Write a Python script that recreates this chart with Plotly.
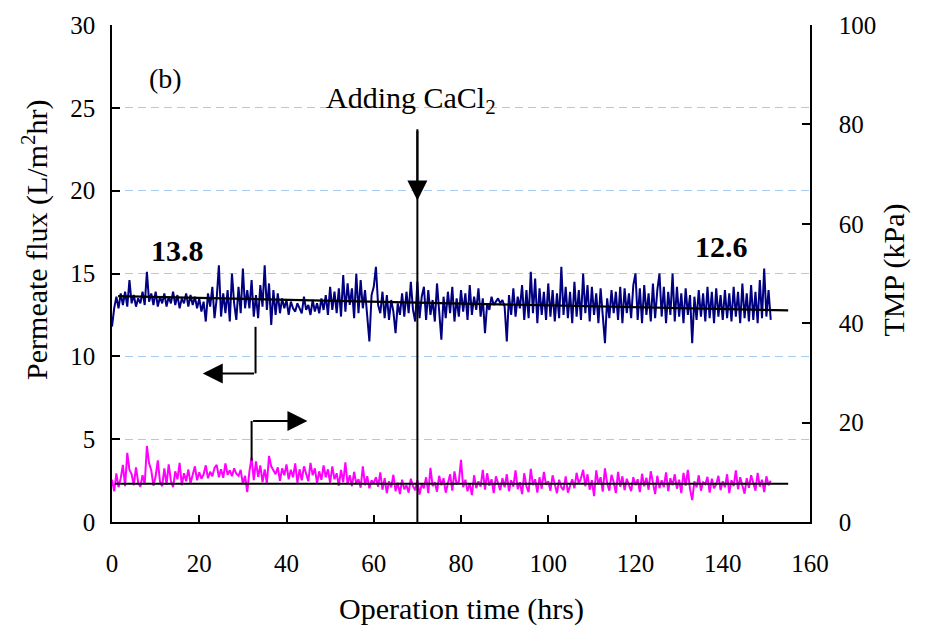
import numpy as np
import plotly.graph_objects as go

# time grid (hrs), one reading every 0.5 h
time = np.arange(303) * 0.5

flux = [
    11.8, 12.9, 13.6, 12.9, 13.8, 13.1, 13.9, 13.0, 14.6, 13.2, 13.7, 13.0, 13.5, 13.2, 13.9, 13.1, 15.1, 13.3, 13.8, 13.1,
    13.9, 13.0, 13.6, 13.2, 13.8, 13.0, 13.6, 13.2, 13.9, 13.1, 13.7, 12.9, 13.5, 13.2, 13.8, 13.0, 13.7, 13.1, 13.6, 12.9,
    13.5, 12.7, 13.3, 12.1, 13.8, 13.0, 14.2, 12.3, 13.5, 15.5, 12.4, 13.8, 12.6, 14.0, 12.1, 15.0, 13.2, 12.2, 14.2, 12.6,
    15.3, 12.9, 14.0, 12.9, 14.6, 12.4, 13.7, 12.3, 14.3, 13.0, 15.5, 12.8, 14.4, 11.9, 14.0, 12.5, 13.8, 12.6, 13.5, 12.9,
    13.4, 12.5, 13.3, 12.9, 12.7, 13.2, 12.9, 12.6, 13.6, 12.8, 13.1, 12.5, 13.4, 12.7, 13.2, 12.6, 13.5, 12.8, 13.7, 12.5,
    14.2, 12.8, 13.9, 12.6, 14.1, 12.4, 14.9, 12.7, 14.4, 13.1, 14.1, 12.3, 15.0, 12.6, 14.6, 12.9, 14.0, 12.2, 10.9, 13.7,
    14.2, 15.4, 13.1, 12.6, 13.9, 12.3, 13.7, 12.2, 13.4, 12.7, 11.4, 13.2, 12.5, 13.8, 12.4, 13.9, 12.6, 14.5, 12.8, 12.1,
    14.5, 12.3, 13.6, 14.2, 12.2, 14.0, 12.5, 13.4, 12.1, 14.4, 12.7, 11.0, 13.6, 12.3, 13.9, 12.6, 14.2, 12.1, 13.5, 12.4,
    14.0, 12.7, 13.8, 12.2, 14.3, 12.5, 13.6, 12.8, 14.1, 12.4, 13.5, 11.4, 13.2, 12.8, 13.6, 13.1, 13.3, 13.5, 13.2, 13.4,
    13.0, 10.9, 13.7, 12.5, 14.1, 12.4, 13.6, 12.9, 14.3, 12.2, 14.0, 12.3, 15.1, 12.6, 14.7, 12.0, 14.1, 12.5, 13.9, 12.2,
    14.4, 12.4, 14.0, 12.1, 13.8, 12.3, 15.4, 12.5, 14.2, 12.3, 13.9, 12.0, 14.5, 12.4, 14.0, 12.2, 15.0, 12.6, 14.3, 12.1,
    14.2, 12.5, 13.8, 12.0, 14.1, 12.4, 10.8, 13.5, 12.3, 14.0, 12.6, 13.9, 12.2, 14.2, 12.0, 14.1, 12.6, 13.8, 12.3, 14.3,
    15.0, 12.2, 14.1, 12.0, 14.3, 12.5, 13.8, 12.1, 14.4, 12.3, 14.0, 15.0, 12.4, 14.2, 12.0, 13.9, 12.5, 15.0, 12.1, 14.2,
    12.4, 13.8, 12.0, 14.1, 12.5, 13.7, 10.8, 13.6, 12.2, 14.0, 12.4, 13.8, 12.1, 14.2, 12.3, 13.9, 12.0, 14.1, 12.4, 13.7,
    12.2, 14.0, 12.3, 13.8, 12.1, 14.2, 12.4, 13.9, 12.0, 14.4, 12.3, 13.8, 12.1, 14.3, 12.2, 13.9, 12.0, 14.6, 12.3, 15.3,
    12.4, 14.0, 12.2,
]

tmp = [
    8.5, 6.2, 9.8, 7.0, 8.8, 11.5, 7.2, 13.9, 10.5, 9.6, 7.4, 11.0, 8.0, 7.1, 9.4, 7.6, 15.3, 11.8, 10.4, 7.3,
    9.2, 12.4, 8.1, 7.2, 10.8, 7.5, 11.6, 8.3, 7.0, 10.2, 8.6, 11.9, 7.4, 9.8, 8.2, 10.6, 7.8, 9.5, 11.2, 8.4,
    10.0, 8.7, 9.6, 11.4, 8.8, 10.1, 9.2, 10.9, 11.5, 9.0, 10.6, 8.9, 11.8, 9.5, 10.4, 9.2, 10.8, 9.7, 9.3, 10.5,
    7.6, 9.3, 6.0, 10.2, 13.0, 8.4, 12.2, 9.1, 11.4, 8.0, 10.6, 7.8, 13.3, 11.2, 10.4, 9.6, 11.0, 8.3, 10.8, 9.4,
    11.6, 8.6, 10.5, 9.0, 11.8, 7.9, 10.6, 8.4, 11.2, 9.6, 8.2, 11.9, 9.4, 10.8, 7.8, 10.2, 8.5, 11.4, 9.0, 10.6,
    7.9, 11.2, 8.6, 9.8, 7.3, 10.5, 8.0, 12.0, 7.6, 9.4, 7.2, 10.1, 7.7, 8.6, 6.9, 11.2, 7.4, 9.2, 6.8, 8.4,
    7.8, 9.0, 7.1, 10.0, 6.5, 8.8, 5.8, 8.2, 7.0, 9.5, 6.2, 7.9, 5.6, 8.5, 6.6, 7.4, 5.9, 8.7, 7.2, 6.4,
    8.4, 5.5, 7.6, 6.8, 9.0, 5.8, 10.9, 7.2, 8.0, 6.1, 9.3, 7.4, 8.8, 5.9, 7.9, 9.6, 6.3, 10.2, 7.6, 8.1,
    12.5, 7.0, 8.5, 6.2, 7.8, 5.4, 9.4, 6.8, 8.2, 7.1, 10.5, 6.5, 9.8, 7.3, 8.6, 5.8, 9.2, 7.6, 6.4, 8.8,
    7.0, 9.6, 6.2, 8.4, 7.1, 10.4, 6.6, 8.0, 5.6, 9.8, 7.2, 6.0, 10.7, 7.4, 8.6, 5.9, 9.0, 6.7, 10.1, 7.5,
    8.2, 6.3, 9.4, 7.6, 5.8, 8.5, 7.0, 6.4, 9.2, 5.9, 7.4, 8.6, 6.8, 9.9, 7.7, 8.8, 10.5, 7.2, 9.6, 6.5,
    8.4, 5.2, 10.4, 7.6, 9.0, 6.1, 10.8, 7.8, 6.3, 9.5, 8.0, 5.8, 10.1, 7.1, 9.2, 6.4, 8.7, 7.5, 6.2, 9.0,
    7.4, 8.6, 6.0, 9.7, 7.2, 8.9, 6.5, 10.2, 7.6, 5.6, 9.3, 6.8, 8.4, 7.0, 10.0, 6.2, 8.8, 7.4, 9.6, 6.7,
    8.5, 5.8, 9.9, 7.3, 10.5, 6.6, 4.4, 8.2, 7.0, 9.4, 6.3, 8.0, 7.6, 9.1, 5.9, 8.7, 6.8, 7.5, 9.3, 6.4,
    8.2, 7.0, 9.6, 5.8, 8.4, 7.2, 10.4, 6.6, 9.0, 7.5, 5.7, 8.8, 6.9, 9.4, 7.8, 6.3, 9.9, 7.1, 8.5, 6.0,
    9.2, 7.4, 8.3,
]

# trend lines (end points)
flux_trend_x = [1.4, 155]
flux_trend_y = [13.63, 12.77]
tmp_trend_x = [0.7, 155]
tmp_trend_y = [7.7, 7.7]

x_ticks = [0, 20, 40, 60, 80, 100, 120, 140, 160]
add_time = 70

FONT = "Liberation Serif"

fig = go.Figure()
fig.add_trace(go.Scatter(x=time, y=flux, mode="lines",
                         line=dict(color="#000080", width=2), yaxis="y", showlegend=False))
fig.add_trace(go.Scatter(x=time, y=tmp, mode="lines",
                         line=dict(color="#FF00FF", width=2), yaxis="y2", showlegend=False))
fig.add_trace(go.Scatter(x=flux_trend_x, y=flux_trend_y, mode="lines",
                         line=dict(color="black", width=2.2), yaxis="y", showlegend=False))
fig.add_trace(go.Scatter(x=tmp_trend_x, y=tmp_trend_y, mode="lines",
                         line=dict(color="black", width=2.2), yaxis="y2", showlegend=False))

shapes = [
    dict(type="line", xref="x", yref="y", x0=add_time, x1=add_time, y0=0, y1=23.7,
         line=dict(color="black", width=2)),
    dict(type="line", xref="x", yref="y", x0=32.9, x1=32.9, y0=11.78, y1=8.97,
         line=dict(color="black", width=2)),
    dict(type="line", xref="x", yref="y", x0=32.0, x1=32.0, y0=3.71, y1=6.1,
         line=dict(color="black", width=2)),
]

arrow_common = dict(showarrow=True, arrowhead=2, arrowsize=2, arrowwidth=2,
                    arrowcolor="black", axref="x", ayref="y", xref="x", yref="y", text="",
                    standoff=0, startstandoff=0)
annotations = [
    dict(x=add_time, y=19.4, ax=add_time, ay=23.7, **arrow_common),
    dict(x=20.8, y=8.97, ax=32.9, ay=8.97, **arrow_common),
    dict(x=44.8, y=6.1, ax=32.0, ay=6.1, **arrow_common),
    dict(x=68.6, y=25.5, xref="x", yref="y", text="Adding CaCl<sub>2</sub>", showarrow=False,
         font=dict(family=FONT, size=30, color="black")),
    dict(x=12.2, y=26.8, xref="x", yref="y", text="(b)", showarrow=False,
         font=dict(family=FONT, size=28, color="black")),
    dict(x=14.9, y=16.4, xref="x", yref="y", text="<b>13.8</b>", showarrow=False,
         font=dict(family=FONT, size=30, color="black")),
    dict(x=139.7, y=16.6, xref="x", yref="y", text="<b>12.6</b>", showarrow=False,
         font=dict(family=FONT, size=30, color="black")),
    dict(x=0.5, y=-0.175, xref="paper", yref="paper", xanchor="center", yanchor="middle",
         text="Operation time (hrs)", showarrow=False,
         font=dict(family=FONT, size=30, color="black")),
    dict(x=-0.110, y=0.568, xref="paper", yref="paper", xanchor="center", yanchor="middle",
         text="Permeate flux (L/m<sup>2</sup>hr)",
         showarrow=False, textangle=-90, font=dict(family=FONT, size=30, color="black")),
    dict(x=1.119, y=0.506, xref="paper", yref="paper", xanchor="center", yanchor="middle",
         text="TMP (kPa)",
         showarrow=False, textangle=-90, font=dict(family=FONT, size=30, color="black")),
]

axis_font = dict(family=FONT, size=25, color="black")
fig.update_layout(
    width=925, height=637,
    margin=dict(l=112, r=115, t=20, b=115),
    paper_bgcolor="white", plot_bgcolor="white",
    shapes=shapes, annotations=annotations,
    xaxis=dict(range=[0, 160], tickvals=x_ticks, ticks="inside", ticklen=7, tickwidth=1.5,
               tickcolor="black", showline=True, linecolor="black", linewidth=1.5,
               showgrid=False, zeroline=False, tickfont=axis_font, ticklabelstandoff=18),
    yaxis=dict(range=[0, 30], dtick=5, ticks="inside", ticklen=8, tickwidth=1.5,
               tickcolor="black", showline=True, linecolor="black", linewidth=1.5,
               showgrid=True, gridcolor="#A6CAF0", griddash="8px,5px", gridwidth=1,
               zeroline=False, tickfont=axis_font, ticklabelstandoff=10),
    yaxis2=dict(range=[0, 100], dtick=20, overlaying="y", side="right", ticks="inside",
                ticklen=8, tickwidth=1.5, tickcolor="black", showline=True, linecolor="black",
                linewidth=1.5, showgrid=False, zeroline=False, tickfont=axis_font,
                ticklabelstandoff=22),
)

fig.write_html("out.html")
